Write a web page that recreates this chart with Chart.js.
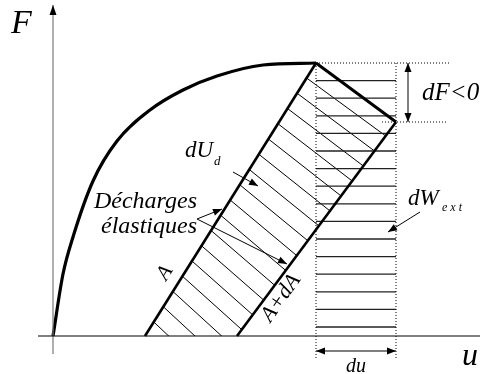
<!DOCTYPE html>
<html><head><meta charset="utf-8">
<script src="https://cdn.jsdelivr.net/npm/chart.js@4"></script>
<style>html,body{margin:0;padding:0;background:#fff}#wrap{width:480px;height:374px}</style>
</head><body><div id="wrap"><canvas id="c" width="480" height="374"></canvas></div>
<script>
// ---- data (u: displacement, F: force) ----
const loadU = [0, 1.0, 2.0, 4.0, 6.4, 9.7, 13.0, 16.4, 21.0, 26.3];
const loadF = [0, 6.2, 9.9, 15.5, 19.5, 22.6, 24.6, 26.0, 27.1, 27.3];
const stepU = [26.3, 34.3];          // softening step over du
const stepF = [27.3, 21.4];          // dF < 0
const unloadAU = [9.2, 26.3];        // elastic unloading, crack A
const unloadAF = [0, 27.3];
const unloadBU = [18.4, 34.3];       // elastic unloading, crack A+dA
const unloadBF = [0, 21.4];
const axisU = [-1.5, 42.7];          // extent of u axis line
const axisF = [-1.8, 33.1];          // extent of F axis line
const duBelowF = -2.4;               // dotted guides go down to here
const guideEndU = [39.7, 39.5];      // end of the dotted horizontal guides
const guideStartU = [26.3, 32.9];
const labelTexts = ['F', 'u', 'du', 'dF<0', 'dU', 'd', 'Décharges', 'élastiques', 'dW', 'e x t', 'A', 'A+dA'];

const pts = (us, fs) => us.map((u, i) => ({x: u, y: fs[i]}));
const line = (data, w, color, extra) => Object.assign({data, showLine: true, borderColor: color, borderWidth: w, pointRadius: 0, fill: false}, extra || {});

const dotted = {borderDash: [1, 2]};
const datasets = [
  line(pts([axisU[0], axisU[1]], [0, 0]), 1.2, '#000'),
  line(pts([0, 0], [axisF[0], axisF[1]]), 1.2, '#777'),
  line(pts([stepU[0], stepU[0]], [stepF[0], duBelowF]), 1, '#000', dotted),
  line(pts([stepU[1], stepU[1]], [stepF[0], duBelowF]), 1, '#000', dotted),
  line(pts([guideStartU[0], guideEndU[0]], [stepF[0], stepF[0]]), 1, '#000', dotted),
  line(pts([guideStartU[1], guideEndU[1]], [stepF[1], stepF[1]]), 1, '#000', dotted),
  line(pts(loadU, loadF), 3.2, '#000', {cubicInterpolationMode: 'monotone'}),
  line(pts(unloadAU, unloadAF), 2.6, '#000'),
  line(pts(unloadBU, unloadBF), 2.6, '#000'),
  line(pts(stepU, stepF), 3, '#000'),
];

const serif = '"Liberation Serif", "DejaVu Serif", serif';
// annotation layout (positions in data units)
const labelLayout = [
  {u: -4.2, f: 30.3, size: 34, align: 'left'},
  {u: 40.9, f: -2.9, size: 32, align: 'left'},
  {u: 30.3, f: -3.6, size: 20, align: 'center'},
  {u: 36.9, f: 23.6, size: 25, align: 'left'},
  {u: 13.2, f: 17.9, size: 23, align: 'left'},
  {u: 16.1, f: 17.1, size: 13, align: 'left'},
  {u: 14.4, f: 12.8, size: 24, align: 'right'},
  {u: 14.4, f: 10.3, size: 24, align: 'right'},
  {u: 35.5, f: 13.1, size: 23, align: 'left'},
  {u: 38.9, f: 12.5, size: 12, align: 'left'},
  {u: 11.2, f: 6.3, size: 21, align: 'center', rot: -58, mid: true},
  {u: 22.8, f: 3.8, size: 22, align: 'center', rot: -55, mid: true},
];
const arrows = [
  {from: [18.0, 16.4], to: [20.5, 15.0]},
  {from: [14.4, 11.7], to: [16.9, 12.7]},
  {from: [14.4, 11.7], to: [23.4, 7.2]},
  {from: [36.7, 12.4], to: [33.5, 10.4]},
];
// hatch style: first line offset below the peak along A, spacing, slope at top and bottom
const hatchStyle = {first: 15, gap: 15.25, slopeTop: 0.72, slopeBottom: 0.95};

function head(ctx, x0, y0, x1, y1, len, hw) {
  const a = Math.atan2(y1 - y0, x1 - x0), c = Math.cos(a), s = Math.sin(a);
  ctx.beginPath();
  ctx.moveTo(x1, y1);
  ctx.lineTo(x1 - len * c + hw * s, y1 - len * s - hw * c);
  ctx.lineTo(x1 - len * c - hw * s, y1 - len * s + hw * c);
  ctx.closePath();
  ctx.fill();
}

const diagram = {
  id: 'diagram',
  beforeDatasetsDraw(chart) {
    const {ctx, scales: {x, y}} = chart;
    const X = v => x.getPixelForValue(v), Y = v => y.getPixelForValue(v);
    // diagonal hatching of the dissipated energy region
    const poly = [[unloadAU[0], unloadAF[0]], [unloadAU[1], unloadAF[1]], [stepU[1], stepF[1]], [unloadBU[0], unloadBF[0]]];
    ctx.save();
    ctx.beginPath();
    poly.forEach((p, i) => i ? ctx.lineTo(X(p[0]), Y(p[1])) : ctx.moveTo(X(p[0]), Y(p[1])));
    ctx.closePath();
    ctx.clip();
    const bx = X(unloadAU[0]), by = Y(unloadAF[0]), tx = X(unloadAU[1]), ty = Y(unloadAF[1]);
    ctx.strokeStyle = '#000'; ctx.lineWidth = 1;
    for (let yy = ty + hatchStyle.first; yy < by + hatchStyle.gap; yy += hatchStyle.gap) {
      const t = (yy - ty) / (by - ty);
      const xx = tx + (bx - tx) * t;
      const m = hatchStyle.slopeTop + (hatchStyle.slopeBottom - hatchStyle.slopeTop) * t;
      ctx.beginPath();
      ctx.moveTo(xx - 40, yy - 40 * m);
      ctx.lineTo(xx + 300, yy + 300 * m);
      ctx.stroke();
    }
    ctx.restore();
    // horizontal hatching of external work
    const x0 = X(stepU[0]), x1 = X(stepU[1]), top = Y(stepF[0]), bot = Y(0), step = 17.6;
    ctx.save();
    ctx.strokeStyle = '#222'; ctx.lineWidth = 1.3;
    for (let yy = top + step; yy < bot - 2; yy += step) {
      ctx.beginPath(); ctx.moveTo(x0, yy); ctx.lineTo(x1, yy); ctx.stroke();
    }
    ctx.restore();
  },
  afterDatasetsDraw(chart) {
    const {ctx, scales: {x, y}} = chart;
    const X = v => x.getPixelForValue(v), Y = v => y.getPixelForValue(v);
    ctx.save();
    ctx.fillStyle = '#000';
    head(ctx, X(0), Y(0), X(0), Y(axisF[1]), 10, 3.5);
    ctx.strokeStyle = '#000'; ctx.lineWidth = 1;
    arrows.forEach(a => {
      const x0 = X(a.from[0]), y0 = Y(a.from[1]), x1 = X(a.to[0]), y1 = Y(a.to[1]);
      ctx.beginPath(); ctx.moveTo(x0, y0); ctx.lineTo(x1, y1); ctx.stroke();
      head(ctx, x0, y0, x1, y1, 9, 3.5);
    });
    ctx.strokeStyle = '#555'; ctx.lineWidth = 1.5;
    const yd = Y(-1.5), xa = X(stepU[0]), xb = X(stepU[1]);
    ctx.beginPath(); ctx.moveTo(xa, yd); ctx.lineTo(xb, yd); ctx.stroke();
    head(ctx, xb, yd, xa, yd, 9, 3.5); head(ctx, xa, yd, xb, yd, 9, 3.5);
    const xf = X(35.5), ya = Y(stepF[0]), yb = Y(stepF[1]);
    ctx.beginPath(); ctx.moveTo(xf, ya); ctx.lineTo(xf, yb); ctx.stroke();
    head(ctx, xf, yb, xf, ya, 9, 3.5); head(ctx, xf, ya, xf, yb, 9, 3.5);
    labelTexts.forEach((t, i) => {
      const L = labelLayout[i];
      ctx.save();
      ctx.font = 'italic ' + L.size + 'px ' + serif;
      ctx.textAlign = L.align;
      ctx.textBaseline = L.mid ? 'middle' : 'alphabetic';
      ctx.translate(X(L.u), Y(L.f));
      if (L.rot) ctx.rotate(L.rot * Math.PI / 180);
      ctx.fillText(t, 0, 0);
      ctx.restore();
    });
    ctx.restore();
  }
};

new Chart(document.getElementById('c'), {
  type: 'scatter',
  data: {datasets},
  options: {
    responsive: false, animation: false, devicePixelRatio: 1,
    layout: {padding: 0},
    plugins: {legend: {display: false}, tooltip: {enabled: false}},
    scales: {
      x: {type: 'linear', min: -5.3, max: 42.7, display: false},
      y: {type: 'linear', min: -3.8, max: 33.6, display: false}
    }
  },
  plugins: [diagram]
});
</script></body></html>
